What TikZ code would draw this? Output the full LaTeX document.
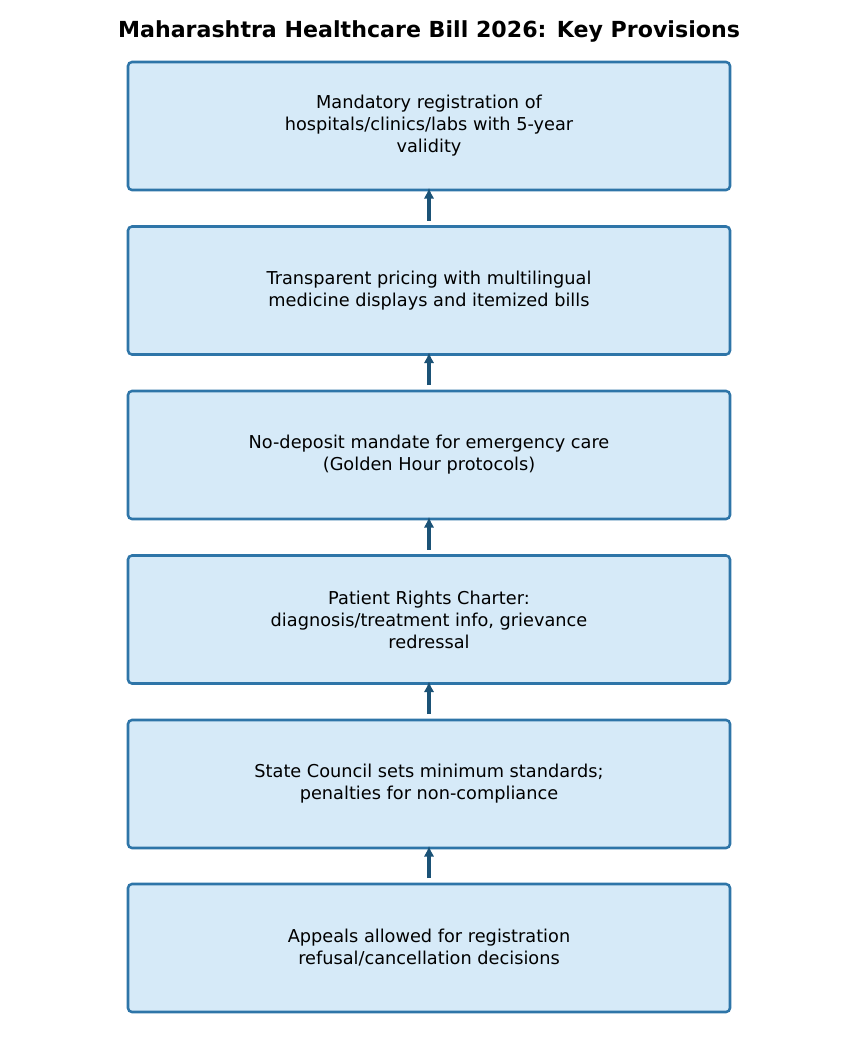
\documentclass[tikz,border=0pt]{standalone}
\usepackage{fontspec}
\setmainfont{DejaVu Sans}
\usetikzlibrary{arrows.meta}
\definecolor{boxfill}{HTML}{D6EAF8}
\definecolor{boxline}{HTML}{2E75A8}
\definecolor{arrowline}{HTML}{1B5276}
\begin{document}
\begin{tikzpicture}[
      x=0.75pt, y=-0.75pt,
      box/.style={
          rectangle, rounded corners=3pt,
          align=center,
          draw=boxline, fill=boxfill, line width=1.9pt,
          minimum height=128*0.75pt, minimum width=602*0.75pt,
          font=\fontsize{13.3}{16.5}\selectfont,
        },
      up/.style={
          arrowline, line width=2.3pt,
          -{Latex[length=8pt,width=8pt]},
          shorten <=3.5pt, shorten >=-2.5pt,
        }
    ]
    \useasboundingbox (0,0) rectangle (858,1053);
    \node[font=\bfseries\fontsize{16.6}{19}\selectfont] (title) at (429,31) {Maharashtra Healthcare Bill 2026: Key Provisions};

    \node[box] (reg) at (429,126) {Mandatory registration of\\hospitals/clinics/labs with 5-year\\validity};
    \node[box] (price) at (429,290.5) {Transparent pricing with multilingual\\medicine displays and itemized bills};
    \node[box] (emerg) at (429,455) {No-deposit mandate for emergency care\\(Golden Hour protocols)};
    \node[box] (charter) at (429,619.5) {Patient Rights Charter:\\diagnosis/treatment info, grievance\\redressal};
    \node[box] (council) at (429,784) {State Council sets minimum standards;\\penalties for non-compliance};
    \node[box] (appeal) at (429,948) {Appeals allowed for registration\\refusal/cancellation decisions};

    \draw[up] (price.north) -- (reg.south);
    \draw[up] (emerg.north) -- (price.south);
    \draw[up] (charter.north) -- (emerg.south);
    \draw[up] (council.north) -- (charter.south);
    \draw[up] (appeal.north) -- (council.south);
  \end{tikzpicture}
\end{document}
